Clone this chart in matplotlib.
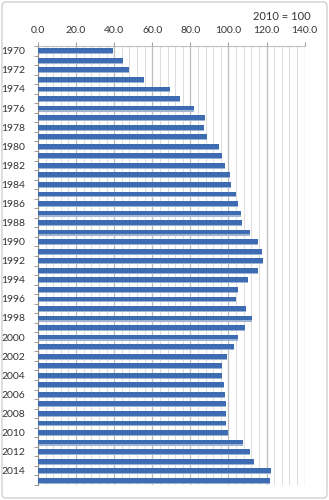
import numpy as np
import matplotlib.pyplot as plt
from matplotlib.patches import FancyBboxPatch
from matplotlib.ticker import MultipleLocator, FixedLocator

plt.rcParams['font.family'] = ['Lato', 'DejaVu Sans']

years = list(range(1970, 2016))
index_values = [
    39.5, 44.4, 47.9, 55.6, 69.1, 74.7, 82.1, 87.7, 87.3, 88.7,
    95.0, 96.8, 98.2, 101.0, 101.3, 104.1, 105.1, 106.6, 107.3, 111.5,
    115.3, 117.4, 118.1, 115.3, 110.1, 104.8, 104.1, 109.4, 112.5, 108.7,
    105.1, 103.0, 99.2, 96.8, 96.8, 97.8, 98.2, 98.8, 98.8, 98.5,
    100.0, 107.6, 111.1, 113.2, 122.3, 121.9,
]
year_labels = [str(y) if y % 2 == 0 else "" for y in years]
base_note = "2010 = 100"

fig = plt.figure(figsize=(3.29, 5.0), dpi=100)

# light frame around the whole chart
frame = FancyBboxPatch((0.006, 0.004), 0.988, 0.992, boxstyle="round,pad=0,rounding_size=0.01",
                       transform=fig.transFigure, fill=False, edgecolor="#d0d0d0", linewidth=1.0)
fig.patches.append(frame)

ax = fig.add_axes([0.1155, 0.03, 0.8106, 0.878])
pos = np.arange(len(years))

# soft shadow under each bar, then the bar itself
ax.barh(pos + 0.12, index_values, height=0.5, color="#9fb3d3", zorder=2)
ax.barh(pos, index_values, height=0.5, color="#3d6cb3", zorder=3)

ax.set_xlim(0, 140)
ax.set_ylim(len(years) - 0.5, -0.5)

ax.xaxis.tick_top()
ax.xaxis.set_major_locator(MultipleLocator(20))
ax.xaxis.set_minor_locator(MultipleLocator(4))
ax.set_xticklabels([f"{v:.1f}" for v in ax.get_xticks()])
ax.tick_params(axis='x', which='major', length=3, color="#a0a0a0", labelsize=7.5,
               pad=5, labelcolor="#333333")
ax.tick_params(axis='x', which='minor', length=0)

ax.set_yticks(pos)
ax.set_yticklabels(year_labels)
ax.yaxis.set_minor_locator(FixedLocator(np.arange(-0.5, len(years), 1.0)))
ax.tick_params(axis='y', which='major', length=0, labelsize=7.5, pad=9, labelcolor="#333333")
ax.tick_params(axis='y', which='minor', length=3, color="#8c8c8c")

ax.grid(True, which='major', axis='x', color="#bdbdbd", linewidth=0.9, zorder=0)
ax.grid(True, which='minor', axis='x', color="#dcdcdc", linewidth=0.7, zorder=0)
ax.set_axisbelow(True)

for side in ("right", "bottom"):
    ax.spines[side].set_visible(False)
ax.spines["top"].set_color("#bdbdbd")
ax.spines["left"].set_color("#8c8c8c")

fig.text(0.944, 0.967, base_note, ha="right", va="center", fontsize=8, color="#333333")

fig.savefig("out.png", dpi=100)
